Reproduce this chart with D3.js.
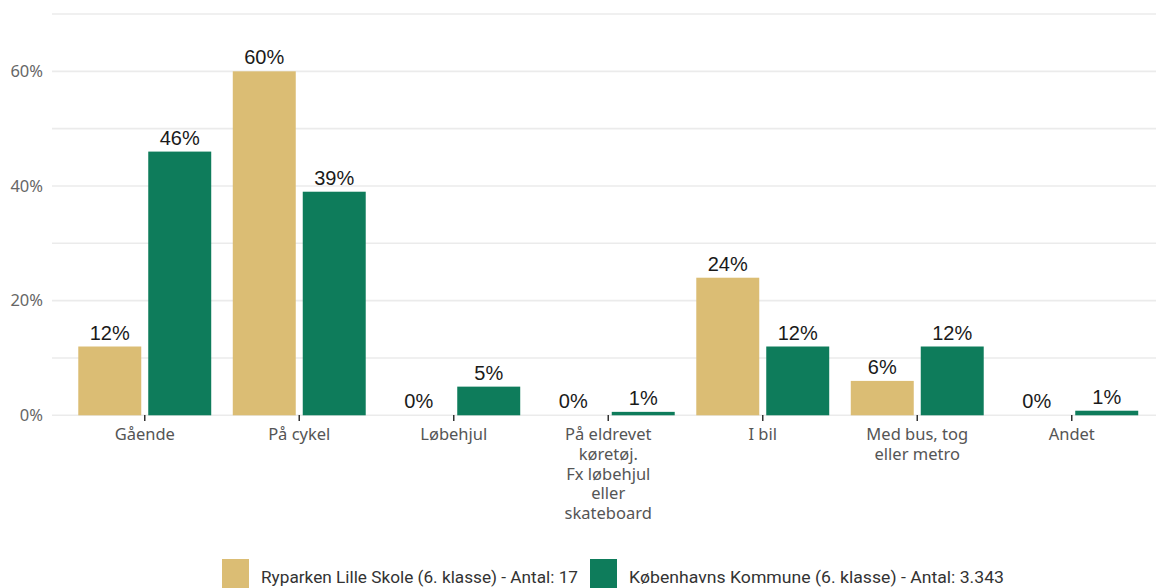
<!DOCTYPE html>
<html>
<head>
<meta charset="utf-8">
<script src="https://cdn.jsdelivr.net/npm/d3@7"></script>
<style>
  html, body { margin: 0; padding: 0; background: #fff; }
  #chart { width: 1156px; height: 588px; overflow: hidden; }
</style>
</head>
<body>
<div id="chart"></div>
<script>
// categories (each entry = lines of the tick label)
const categories = ["Gående", "På cykel", "Løbehjul", "På eldrevet", "I bil", "Med bus", "Andet"];
const categoryLines = [
  ["Gående"],
  ["På cykel"],
  ["Løbehjul"],
  ["På eldrevet", "køretøj.", "Fx løbehjul", "eller", "skateboard"],
  ["I bil"],
  ["Med bus, tog", "eller metro"],
  ["Andet"]
];
const seriesNames = ["Ryparken Lille Skole (6. klasse) - Antal: 17", "Københavns Kommune (6. klasse) - Antal: 3.343"];
const schoolValues = [12, 60, 0, 0, 24, 6, 0];
const kommuneValues = [46, 39, 5, 0.6, 12, 12, 0.8];
const yTicks = [0, 20, 40, 60];
const gridTicks = [0, 10, 20, 30, 40, 50, 60, 70];
const colours = ["#dbbd74", "#0e7c5b"];

const width = 1156, height = 588;
const svg = d3.select("#chart").append("svg")
  .attr("width", width)
  .attr("height", height);

const x = d3.scaleBand()
  .domain(categories)
  .range([67.5, 1149])
  .paddingInner(0)
  .paddingOuter(0);

const xInner = d3.scaleBand()
  .domain([0, 1])
  .range([0, x.bandwidth()])
  .paddingInner(0.1)
  .paddingOuter(0.154);

const y = d3.scaleLinear()
  .domain([0, 70])
  .range([415.3, 14]);

// grid
svg.append("g")
  .selectAll("line")
  .data(gridTicks)
  .join("line")
  .attr("x1", 52)
  .attr("x2", width)
  .attr("y1", d => y(d))
  .attr("y2", d => y(d))
  .style("stroke", "#ebebeb")
  .style("stroke-width", 1.6);

// y axis labels
svg.append("g")
  .selectAll("text")
  .data(yTicks)
  .join("text")
  .attr("x", 43)
  .attr("y", d => y(d))
  .attr("dy", "0.35em")
  .attr("text-anchor", "end")
  .style("font-family", "'Noto Sans', 'DejaVu Sans', sans-serif")
  .style("font-size", "16.5px")
  .style("fill", "#666")
  .text(d => d + "%");

// bars
const series = [schoolValues, kommuneValues];
const rows = [];
categories.forEach((c, i) => {
  series.forEach((vals, s) => rows.push({cat: c, s: s, v: vals[i]}));
});

svg.append("g")
  .selectAll("rect")
  .data(rows)
  .join("rect")
  .attr("x", d => x(d.cat) + xInner(d.s))
  .attr("width", xInner.bandwidth())
  .attr("y", d => y(d.v))
  .attr("height", d => y(0) - y(d.v))
  .style("fill", d => colours[d.s]);

// value labels
svg.append("g")
  .selectAll("text")
  .data(rows)
  .join("text")
  .attr("x", d => x(d.cat) + xInner(d.s) + xInner.bandwidth() / 2)
  .attr("y", d => y(d.v) - 7)
  .attr("text-anchor", "middle")
  .style("font-family", "'Liberation Sans', Arial, sans-serif")
  .style("font-size", "20px")
  .style("fill", "#1a1a1a")
  .text(d => Math.round(d.v) + "%");

// x ticks
const xAxis = svg.append("g");
xAxis.selectAll("line")
  .data(categories)
  .join("line")
  .attr("x1", d => x(d) + x.bandwidth() / 2)
  .attr("x2", d => x(d) + x.bandwidth() / 2)
  .attr("y1", 415)
  .attr("y2", 421)
  .style("stroke", "#333")
  .style("stroke-width", 1.5);

xAxis.selectAll("text")
  .data(categories)
  .join("text")
  .attr("x", d => x(d) + x.bandwidth() / 2)
  .attr("y", 440)
  .attr("text-anchor", "middle")
  .style("font-family", "'Noto Sans', 'DejaVu Sans', sans-serif")
  .style("font-size", "16.5px")
  .style("fill", "#555")
  .each(function(d, i) {
    const t = d3.select(this);
    categoryLines[i].forEach((line, j) => {
      t.append("tspan")
        .attr("x", x(d) + x.bandwidth() / 2)
        .attr("dy", j === 0 ? 0 : 19.8)
        .text(line);
    });
  });

// legend
const legendItems = [
  {name: seriesNames[0], colour: colours[0], sx: 222, tx: 261, tw: 317},
  {name: seriesNames[1], colour: colours[1], sx: 590, tx: 629, tw: 375}
];
const legend = svg.append("g");
legend.selectAll("rect")
  .data(legendItems)
  .join("rect")
  .attr("x", d => d.sx)
  .attr("y", 559)
  .attr("width", 27)
  .attr("height", 32)
  .style("fill", d => d.colour);

legend.selectAll("text")
  .data(legendItems)
  .join("text")
  .attr("x", d => d.tx)
  .attr("y", 577)
  .attr("dy", "0.35em")
  .attr("textLength", d => d.tw)
  .attr("lengthAdjust", "spacingAndGlyphs")
  .style("font-family", "'Liberation Sans Narrow', 'Roboto', sans-serif")
  .style("font-size", "17px")
  .style("fill", "#333")
  .text(d => d.name);
</script>
</body>
</html>
